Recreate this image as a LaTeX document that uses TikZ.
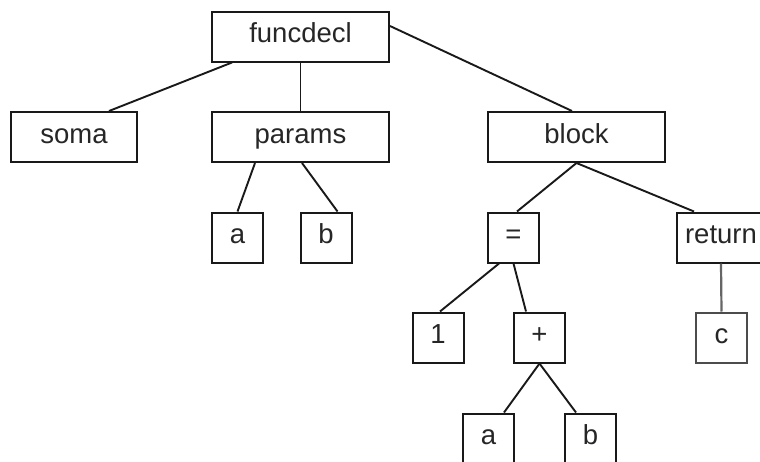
\documentclass[tikz,border=0pt]{standalone}
\usepackage{fontspec}
\setmainfont{Liberation Sans}
\begin{document}
\begin{tikzpicture}[x=1pt,y=-1pt,
  box/.style={draw=black!90, line width=2pt, fill=white, inner sep=0pt,
    minimum height=50pt, font=\fontsize{27.5}{30}\selectfont, text=black!85,
    text height=19pt, text depth=7pt},
  sq/.style={box, minimum width=51pt},
  wide/.style={box, minimum width=177pt},
  edge/.style={draw=black!90, line width=1.9pt},
  gedge/.style={draw=black!60, line width=2.2pt}]
\useasboundingbox[fill=white] (0,0) rectangle (760,461);
\node[wide] (funcdecl) at (300.5,36.5) {funcdecl};
\node[box, minimum width=126pt] (soma) at (74,137) {soma};
\node[wide] (params) at (300.5,137) {params};
\node[wide] (block) at (576.5,137) {block};
\node[sq] (pa) at (237.5,237.5) {a};
\node[sq] (pb) at (326,237.5) {b};
\node[sq] (eq) at (513.5,237.5) {=};
\node[box, minimum width=88pt] (ret) at (721,237.5) {return};
\node[sq] (one) at (438,337.5) {1};
\node[sq] (plus) at (539.5,337.5) {+};
\node[sq, draw=black!70] (c) at (721.5,337.5) {c};
\node[sq] (a2) at (488.5,438.5) {a};
\node[sq] (b2) at (590.5,438.5) {b};

\draw[edge] ([xshift=21pt]funcdecl.south west) -- ([xshift=99pt]soma.north west);
\draw[edge] (funcdecl.south) -- (params.north);
\draw[edge] ([yshift=10.5pt]funcdecl.east) -- ([xshift=-4.5pt]block.north);
\draw[edge] ([xshift=44pt]params.south west) -- (pa.north);
\draw[edge] ([xshift=1.5pt]params.south) -- ([xshift=-15pt]pb.north east);
\draw[edge] (block.south) -- ([xshift=3.5pt]eq.north);
\draw[edge] (block.south) -- ([xshift=18pt]ret.north west);
\draw[gedge] (ret.south) -- (c.north);
\draw[edge] ([xshift=12pt]eq.south west) -- ([xshift=2pt]one.north);
\draw[edge] (eq.south) -- ([xshift=13pt]plus.north west);
\draw[edge] (plus.south) -- ([xshift=-11pt]a2.north east);
\draw[edge] (plus.south) -- ([xshift=12pt]b2.north west);
\end{tikzpicture}
\end{document}
